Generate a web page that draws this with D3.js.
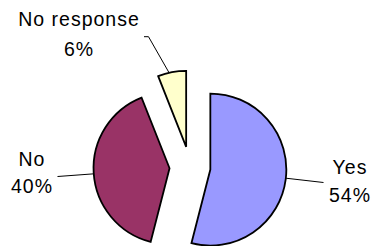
<!DOCTYPE html>
<html>
<head>
<meta charset="utf-8">
<script src="https://cdn.jsdelivr.net/npm/d3@7"></script>
<style>
  html, body { margin: 0; padding: 0; background: #fff; }
  svg { display: block; }
</style>
</head>
<body>
<svg id="chart" width="374" height="246"></svg>
<script>
// ---- data ----
const categories = ["Yes", "No", "No response"];
const values = [54, 40, 6];
const percentLabels = ["54%", "40%", "6%"];
const colors = ["#9999FF", "#993366", "#FFFFCC"];

// ---- layout ----
const W = 374, H = 246;
const cx = 190, cy = 167, radius = 76, explode = 20.5;
// label placement (text centre x, first/second baseline) and leader end point
const labelLayout = [
  { x: 350, y1: 173.5, y2: 201.5, lx: 323.5, ly: 182.5, stub: 0 },
  { x: 32,  y1: 166,   y2: 193,   lx: 57.5,  ly: 176.5, stub: 0 },
  { x: 79,  y1: 25.5,  y2: 56,    lx: 144,   ly: 36.7,  stub: 4.5 }
];

const svg = d3.select("#chart");

const pie = d3.pie().sort(null).value(d => d).startAngle(0).endAngle(2 * Math.PI);
const arcs = pie(values);
const arcGen = d3.arc().innerRadius(0).outerRadius(radius);

const g = svg.append("g").attr("transform", `translate(${cx},${cy})`);

function offsetOf(a) {
  const m = (a.startAngle + a.endAngle) / 2;
  return [explode * Math.sin(m), -explode * Math.cos(m)];
}

g.selectAll("path.slice")
  .data(arcs)
  .join("path")
  .attr("class", "slice")
  .attr("transform", d => { const o = offsetOf(d); return `translate(${o[0]},${o[1]})`; })
  .attr("d", arcGen)
  .attr("fill", (d, i) => colors[i])
  .attr("stroke", "#000")
  .attr("stroke-width", 1.8)
  .attr("stroke-linejoin", "miter");

// leader lines
arcs.forEach((a, i) => {
  const L = labelLayout[i];
  const o = offsetOf(a);
  const sx = cx + o[0], sy = cy + o[1];
  const ex = L.lx + L.stub, ey = L.ly;
  let ang = Math.atan2(ex - sx, -(ey - sy));
  if (ang < 0) ang += 2 * Math.PI;
  const span = a.endAngle - a.startAngle;
  const lo = a.startAngle + 0.4 * span, hi = a.endAngle - 0.4 * span;
  ang = Math.max(lo, Math.min(hi, ang));
  const px = sx + radius * Math.sin(ang), py = sy - radius * Math.cos(ang);
  const pts = [[L.lx, L.ly]];
  if (L.stub) pts.push([L.lx + L.stub, L.ly]);
  pts.push([px, py]);
  svg.append("path")
    .attr("d", d3.line()(pts))
    .attr("fill", "none")
    .attr("stroke", "#000")
    .attr("stroke-width", 1);
});

// labels
arcs.forEach((a, i) => {
  const L = labelLayout[i];
  const t = svg.append("text")
    .attr("text-anchor", "middle")
    .attr("font-family", "Liberation Sans, Arial, sans-serif")
    .attr("font-size", 19.5)
    .attr("letter-spacing", 1)
    .attr("fill", "#000");
  t.append("tspan").attr("x", L.x).attr("y", L.y1).text(categories[i]);
  t.append("tspan").attr("x", L.x).attr("y", L.y2).text(percentLabels[i]);
});
</script>
</body>
</html>
